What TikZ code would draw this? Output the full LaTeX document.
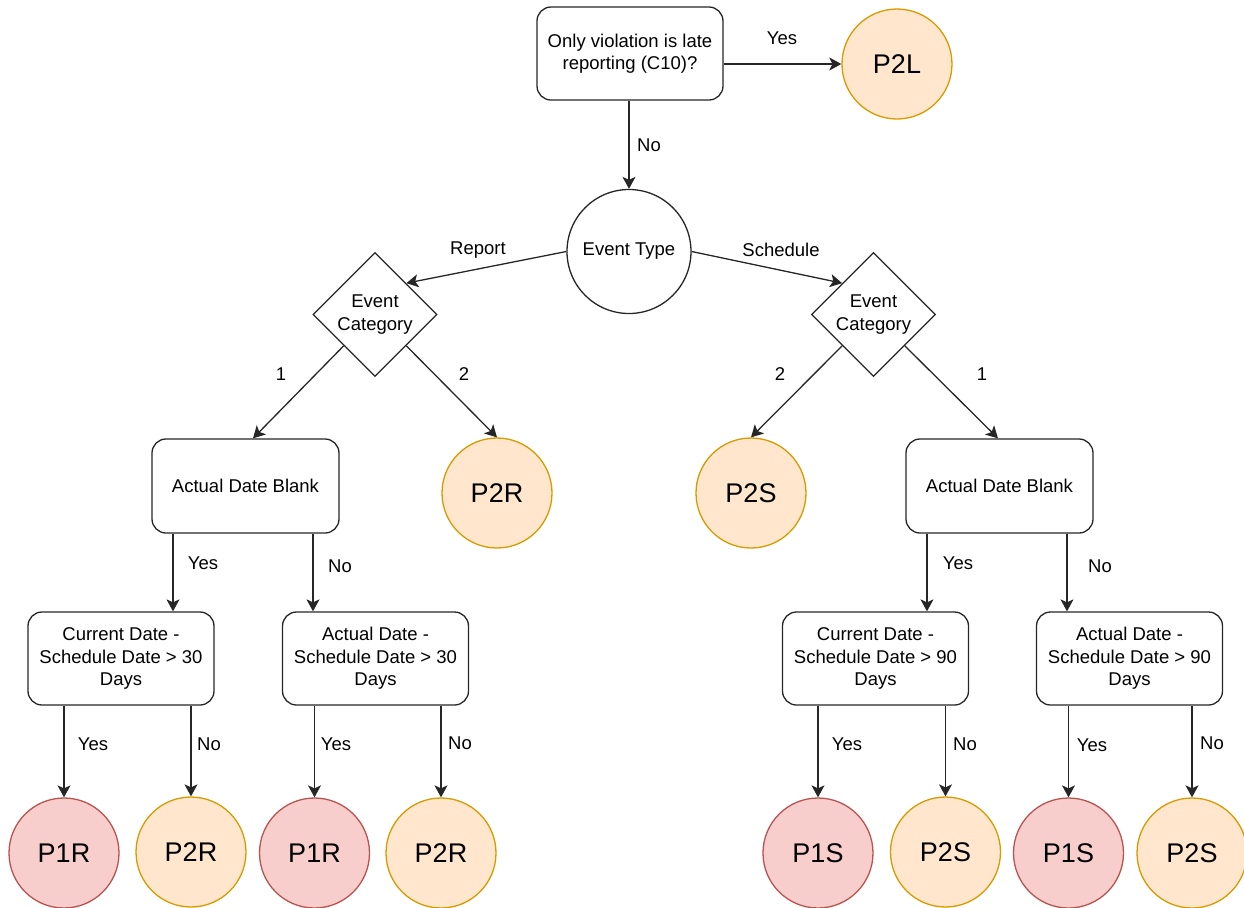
\documentclass[tikz,border=0pt]{standalone}
\usepackage{fontspec}
\setmainfont{Liberation Sans}
\usetikzlibrary{shapes.geometric,arrows.meta}
\definecolor{redfill}{HTML}{F8CECC}
\definecolor{redline}{HTML}{B85450}
\definecolor{orfill}{HTML}{FFE6CC}
\definecolor{orline}{HTML}{D79B00}
\begin{document}
\begin{tikzpicture}[x=0.5pt,y=-0.5pt,
  every node/.style={font=\fontsize{9.25}{11.2}\selectfont},
  box/.style={draw=black!85, line width=0.65pt, rounded corners=7pt, align=center, inner sep=0pt, minimum width=93pt, minimum height=46.5pt},
  bigcirc/.style={circle, draw=black!85, line width=0.65pt, minimum size=62pt, inner sep=0pt},
  dia/.style={diamond, aspect=1, draw=black!85, line width=0.65pt, minimum width=62pt, minimum height=62pt, inner sep=0pt, align=center},
  pred/.style={circle, draw=redline, fill=redfill, line width=0.65pt, minimum size=55pt, inner sep=0pt, font=\fontsize{13.5}{16}\selectfont},
  por/.style={circle, draw=orline, fill=orfill, line width=0.65pt, minimum size=55pt, inner sep=0pt, font=\fontsize{13.5}{16}\selectfont},
  arr/.style={draw=black!85, line width=0.65pt, -{Stealth[length=6pt,width=6.5pt,inset=1.5pt]}},
  lbl/.style={inner sep=0pt}
]
\useasboundingbox (0,0) rectangle (1244,907);

% nodes
\node[box] (q) at (630,53.5) {Only violation is late\\reporting (C10)?};
\node[por] (p2l) at (897,64) {P2L};
\node[bigcirc] (et) at (629,251.5) {Event Type};
\node[dia] (lcat) at (375,314.5) {Event\\Category};
\node[dia] (rcat) at (873.5,314.5) {Event\\Category};
\node[box, minimum width=93.5pt, minimum height=47pt] (adbL) at (245.5,486) {Actual Date Blank};
\node[box, minimum width=93.5pt, minimum height=47pt] (adbR) at (999.5,486) {Actual Date Blank};
\node[por] (p2rM) at (497,493) {P2R};
\node[por] (p2sM) at (751,493) {P2S};
\node[box] (curL) at (121,658.5) {Current Date -\\Schedule Date > 30\\Days};
\node[box] (actL) at (375.5,658.5) {Actual Date -\\Schedule Date > 30\\Days};
\node[box] (curR) at (875.5,658.5) {Current Date -\\Schedule Date > 90\\Days};
\node[box] (actR) at (1129.5,658.5) {Actual Date -\\Schedule Date > 90\\Days};
\node[pred] (p1a) at (64,853) {P1R};
\node[por]  (p2a) at (191,852) {P2R};
\node[pred] (p1b) at (314.5,853) {P1R};
\node[por]  (p2b) at (441,853) {P2R};
\node[pred] (p1c) at (818,853) {P1S};
\node[por]  (p2c) at (945.5,852) {P2S};
\node[pred] (p1d) at (1068.5,853) {P1S};
\node[por]  (p2d) at (1192,853) {P2S};

% connectors
\draw[arr] (q.east |- p2l.west) -- (p2l.west);
\draw[arr] (q.south -| et.north) -- (et.north);
\draw[arr] (et.west) -- (lcat.north east);
\draw[arr] (et.east) -- (rcat.north west);
\draw[arr] (lcat.south west) -- (adbL.north -| 253,0);
\draw[arr] (lcat.south east) -- (p2rM.north);
\draw[arr] (rcat.south west) -- (p2sM.north);
\draw[arr] (rcat.south east) -- (adbR.north -| 998,0);
\draw[arr] (adbL.south -| 173,0) -- (curL.north -| 173,0);
\draw[arr] (adbL.south -| 313,0) -- (actL.north -| 313,0);
\draw[arr] (adbR.south -| 927,0) -- (curR.north -| 927,0);
\draw[arr] (adbR.south -| 1067,0) -- (actR.north -| 1067,0);
\draw[arr] (curL.south -| p1a.north) -- (p1a.north);
\draw[arr] (curL.south -| p2a.north) -- (p2a.north);
\draw[arr] (actL.south -| p1b.north) -- (p1b.north);
\draw[arr] (actL.south -| p2b.north) -- (p2b.north);
\draw[arr] (curR.south -| p1c.north) -- (p1c.north);
\draw[arr] (curR.south -| p2c.north) -- (p2c.north);
\draw[arr] (actR.south -| p1d.north) -- (p1d.north);
\draw[arr] (actR.south -| p2d.north) -- (p2d.north);

% labels
\node[lbl] (l1) at (782,38) {Yes};
\node[lbl] (l2) at (649,145) {No};
\node[lbl] (l3) at (478,250) {Report};
\node[lbl] (l4) at (781,250) {Schedule};
\node[lbl] (l5) at (281,374) {1};
\node[lbl] (l6) at (464,374) {2};
\node[lbl] (l7) at (780,374) {2};
\node[lbl] (l8) at (982,374) {1};
\node[lbl] (l9) at (203,563) {Yes};
\node[lbl] (l10) at (340,566) {No};
\node[lbl] (l11) at (958,563) {Yes};
\node[lbl] (l12) at (1100,566) {No};
\node[lbl] (l13) at (93,744) {Yes};
\node[lbl] (l14) at (209,744) {No};
\node[lbl] (l15) at (336,744) {Yes};
\node[lbl] (l16) at (460,743) {No};
\node[lbl] (l17) at (847,744) {Yes};
\node[lbl] (l18) at (965,744) {No};
\node[lbl] (l19) at (1092,745) {Yes};
\node[lbl] (l20) at (1212,743) {No};
\end{tikzpicture}
\end{document}
